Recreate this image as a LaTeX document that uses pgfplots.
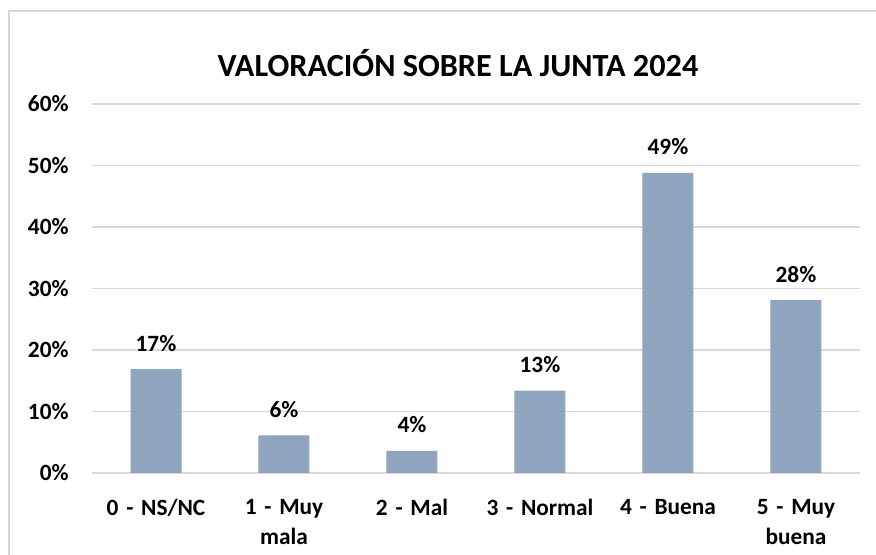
\documentclass[border=0pt]{standalone}
\usepackage{fontspec}
\setmainfont{Carlito}
\usepackage{pgfplots}
\pgfplotsset{compat=1.18}
\definecolor{barcol}{HTML}{8EA4BF}
\definecolor{gridcol}{HTML}{D9D9D9}
\begin{document}
\begin{tikzpicture}
\path[use as bounding box] (0pt,0pt) rectangle (657pt,416.25pt);
\draw[gridcol, line width=1.2pt] (6.75pt,0pt) -- (6.75pt,408pt) -- (657pt,408pt);
\node[anchor=base, font=\fontsize{24.2}{29}\selectfont\bfseries] at (343.5pt,358.5pt) {VALORACIÓN SOBRE LA JUNTA 2024};
\begin{axis}[
  at={(69pt,61.5pt)}, anchor=south west,
  scale only axis, width=576pt, height=276.75pt,
  xmin=-0.5, xmax=5.5, ymin=0, ymax=60,
  ybar, bar width=38.25pt,
  xtick=data,
  xticklabels={0 - NS/NC, {1 - Muy\\mala}, 2 - Mal, 3 - Normal, 4 - Buena, {5 - Muy\\buena}},
  ytick={0,10,20,30,40,50,60},
  yticklabel={\pgfmathprintnumber{\tick}\%},
  /pgf/number format/assume math mode=true,
  ticklabel style={font=\fontsize{17.5}{22.5}\selectfont\bfseries},
  xticklabel style={align=center, text width=110pt, yshift=-16pt, execute at begin node={\baselineskip=22.5pt}},
  yticklabel style={xshift=-14pt},
  major tick length=0pt,
  axis line style={draw=none},
  ymajorgrids, grid style={gridcol, line width=1pt},
  nodes near coords={\pgfmathprintnumber[fixed,precision=0]{\pgfplotspointmeta}\%},
  every node near coord/.append style={font=\fontsize{17.5}{22.5}\selectfont\bfseries, anchor=base, yshift=13.5pt},
  clip=false,
]
\addplot[fill=barcol, draw=none] coordinates {(0,16.9) (1,6.1) (2,3.6) (3,13.4) (4,48.8) (5,28.1)};
\end{axis}
\end{tikzpicture}
\end{document}
